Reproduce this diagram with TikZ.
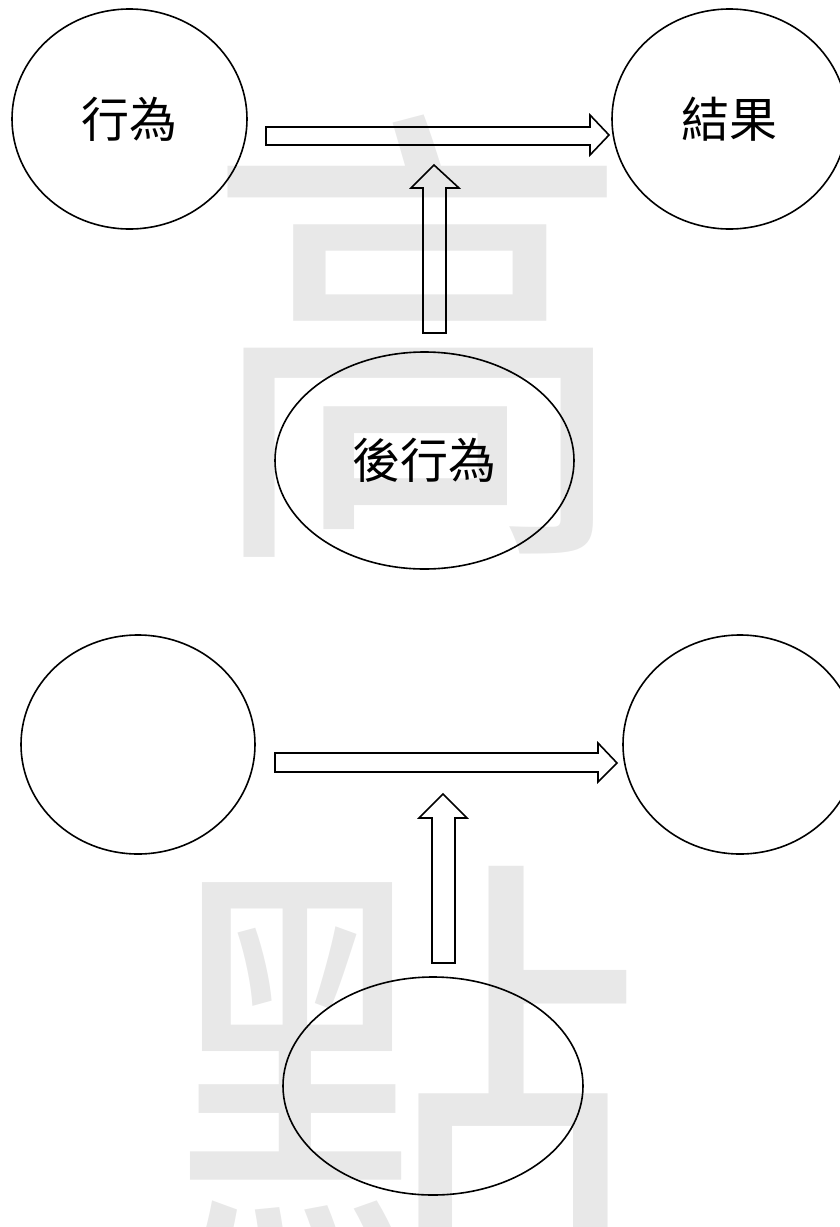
\documentclass[tikz,border=0pt]{standalone}
\usepackage{fontspec}
\usetikzlibrary{shapes.geometric}
\newfontfamily\cjk{Noto Sans CJK TC}
\definecolor{wmgray}{RGB}{232,232,232}
\tikzset{
  bubble/.style={ellipse, draw=black, line width=1.6pt, inner sep=0pt, font=\cjk\fontsize{48}{48}\selectfont},
  blockarrow/.style={draw=black, line width=1.6pt, line join=miter},
  watermark/.style={text=wmgray, inner sep=0pt, font=\cjk\fontsize{480}{480}\selectfont}
}
\begin{document}
\begin{tikzpicture}[x=1pt,y=-1pt]
\useasboundingbox (0,0) rectangle (840,1227);
% watermarks
\node[watermark, xscale=0.9] (wm1) at (418,336) {高};
\node[watermark, xscale=1.0] (wm2) at (405,1086) {點};
% first diagram
\node[bubble, minimum width=235pt, minimum height=220pt] (act) at (129.5,119) {行為};
\node[bubble, minimum width=235pt, minimum height=220pt] (res) at (729.5,119) {結果};
\node[bubble, minimum width=299pt, minimum height=217pt] (post) at (424.5,460.5) {後行為};
\draw[blockarrow] (266,127) -- (590,127) -- (590,115) -- (609,135) -- (590,155) -- (590,145) -- (266,145) -- cycle;
\draw[blockarrow] (423,333) -- (423,188) -- (411,188) -- (434,165) -- (459,188) -- (446,188) -- (446,333) -- cycle;
% second diagram
\node[bubble, minimum width=234pt, minimum height=219pt] (act2) at (138,744.5) {};
\node[bubble, minimum width=234pt, minimum height=219pt] (res2) at (740,744.5) {};
\node[bubble, minimum width=300pt, minimum height=218pt] (post2) at (433,1086) {};
\draw[blockarrow] (275,753) -- (598,753) -- (598,743) -- (617,763) -- (598,782) -- (598,772) -- (275,772) -- cycle;
\draw[blockarrow] (432,963) -- (432,818) -- (419,818) -- (443,794) -- (467,818) -- (455,818) -- (455,963) -- cycle;
\end{tikzpicture}
\end{document}
